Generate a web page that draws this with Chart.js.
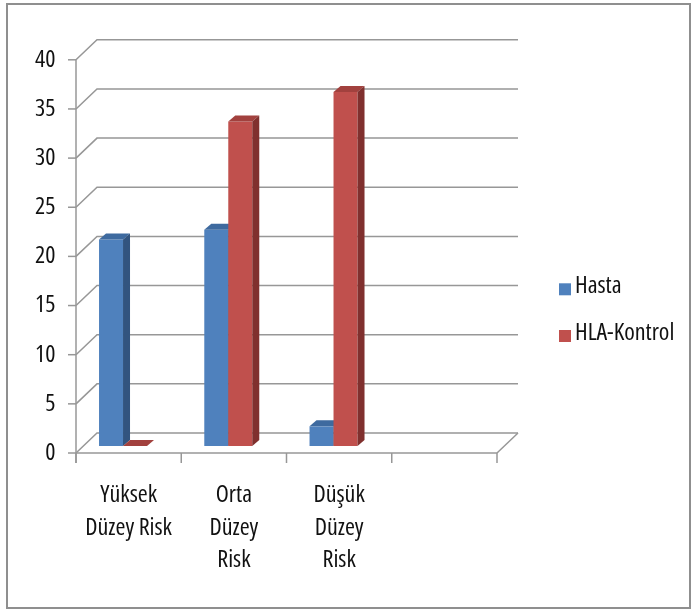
<!DOCTYPE html>
<html>
<head>
<meta charset="utf-8">
<script src="https://cdn.jsdelivr.net/npm/chart.js@4.4.1/dist/chart.umd.min.js"></script>
<style>
  html, body { margin: 0; padding: 0; background: #ffffff; }
  #wrap { width: 696px; height: 610px; }
</style>
</head>
<body>
<div id="wrap"><canvas id="chart" width="696" height="610"></canvas></div>
<script>
// Risk groups on the category axis (multi-line labels), last slot left empty
const categories = [["Yüksek", "Düzey Risk"], ["Orta", "Düzey", "Risk"], ["Düşük", "Düzey", "Risk"], ""];
// Series values per risk group
const hastaValues = [21, 22, 2, null];
const kontrolValues = [0, 33, 36, null];
const seriesNames = ["Hasta", "HLA-Kontrol"];
// Value axis range and tick step
const yMin = 0;
const yMax = 40;
const yStep = 5;

// Narrow face of Open Sans (its width axis), passed through the weight slot of the font string
const FONT_FAMILY = "'Open Sans', 'DejaVu Sans Condensed', sans-serif";
const FONT_STRETCH = "condensed";
const FONT_SIZE = 24;

// Shading for the faces of the 3-D columns: [front, top, side]
const faceColors = [
  ["#4F81BD", "#3E6A9F", "#32547F"],
  ["#C0504D", "#A2413E", "#80302E"]
];

// 3-D geometry: bar depth, and the front / back wall planes relative to the bar plane
const BAR_DEPTH = { x: 7, y: -6 };
const FRONT = { x: 5.6, y: 7 };
const BACK = { x: 26.6, y: -13 };
const GRID_COLOR = "#979797";

const threeD = {
  id: "threeD",
  beforeDraw(chart) {
    const ctx = chart.ctx;
    ctx.save();
    ctx.fillStyle = "#ffffff";
    ctx.fillRect(0, 0, chart.width, chart.height);
    ctx.strokeStyle = "#8f8f8f";
    ctx.lineWidth = 2;
    ctx.strokeRect(7, 4, 683, 604);
    ctx.restore();
  },
  beforeDatasetsDraw(chart) {
    const ctx = chart.ctx;
    const ys = chart.scales.y;
    const L = chart.chartArea.left, R = chart.chartArea.right;
    ctx.save();
    ctx.strokeStyle = GRID_COLOR;
    ctx.lineWidth = 1.5;
    ctx.lineCap = "butt";
    // back wall gridlines plus their diagonals on the side wall
    ys.ticks.forEach(t => {
      const y = ys.getPixelForValue(t.value);
      ctx.beginPath();
      ctx.moveTo(L + FRONT.x, y + FRONT.y);
      ctx.lineTo(L + BACK.x, y + BACK.y);
      ctx.lineTo(R + BACK.x, y + BACK.y);
      ctx.stroke();
      // tick mark on the front value axis
      ctx.beginPath();
      ctx.moveTo(L + FRONT.x - 8, y + FRONT.y);
      ctx.lineTo(L + FRONT.x, y + FRONT.y);
      ctx.stroke();
    });
    const y0 = ys.getPixelForValue(yMin);
    const yTop = ys.getPixelForValue(yMax);
    // floor edge on the right
    ctx.beginPath();
    ctx.moveTo(R + FRONT.x, y0 + FRONT.y);
    ctx.lineTo(R + BACK.x, y0 + BACK.y);
    ctx.stroke();
    // front value axis
    ctx.beginPath();
    ctx.moveTo(L + FRONT.x, yTop + FRONT.y);
    ctx.lineTo(L + FRONT.x, y0 + FRONT.y + 10);
    ctx.stroke();
    // front category axis
    ctx.beginPath();
    ctx.moveTo(L + FRONT.x, y0 + FRONT.y);
    ctx.lineTo(R + FRONT.x, y0 + FRONT.y);
    ctx.stroke();
    // category separators
    const n = categories.length;
    for (let i = 0; i <= n; i++) {
      const x = L + (R - L) * i / n + FRONT.x;
      ctx.beginPath();
      ctx.moveTo(x, y0 + FRONT.y);
      ctx.lineTo(x, y0 + FRONT.y + 10);
      ctx.stroke();
    }
    ctx.restore();
  },
  beforeDatasetDraw() {
    // columns are painted together below so that nearer faces overlap correctly
    return false;
  },
  afterDatasetsDraw(chart) {
    const ctx = chart.ctx;
    const n = chart.data.labels.length;
    ctx.save();
    for (let j = 0; j < n; j++) {
      chart.data.datasets.forEach((ds, i) => {
        if (ds.data[j] === null || ds.data[j] === undefined) return;
        const el = chart.getDatasetMeta(i).data[j];
        const left = el.x - el.width / 2, right = el.x + el.width / 2;
        const top = Math.min(el.y, el.base), base = Math.max(el.y, el.base);
        const dx = BAR_DEPTH.x, dy = BAR_DEPTH.y;
        el.draw(ctx, chart.chartArea);
        // top face
        ctx.fillStyle = faceColors[i][1];
        ctx.beginPath();
        ctx.moveTo(left, top);
        ctx.lineTo(left + dx, top + dy);
        ctx.lineTo(right + dx, top + dy);
        ctx.lineTo(right, top);
        ctx.closePath();
        ctx.fill();
        // side face
        if (base - top > 0.5) {
          ctx.fillStyle = faceColors[i][2];
          ctx.beginPath();
          ctx.moveTo(right, top);
          ctx.lineTo(right + dx, top + dy);
          ctx.lineTo(right + dx, base + dy);
          ctx.lineTo(right, base);
          ctx.closePath();
          ctx.fill();
        }
      });
    }
    ctx.restore();
  },
  afterDraw(chart) {
    // legend at the right of the plot
    const ctx = chart.ctx;
    ctx.save();
    ctx.font = FONT_STRETCH + " " + FONT_SIZE + "px " + FONT_FAMILY;
    ctx.textBaseline = "alphabetic";
    ctx.textAlign = "left";
    chart.data.datasets.forEach((ds, i) => {
      const baseY = 293.3 + i * 46.7;
      ctx.fillStyle = ds.backgroundColor;
      ctx.fillRect(559, baseY - 10, 12, 12);
      ctx.fillStyle = "#111111";
      ctx.fillText(ds.label, 575, baseY);
    });
    ctx.restore();
  }
};

const tickFont = { family: FONT_FAMILY, size: FONT_SIZE, weight: FONT_STRETCH, lineHeight: 1.36 };

new Chart(document.getElementById("chart"), {
  type: "bar",
  data: {
    labels: categories,
    datasets: [
      { label: seriesNames[0], data: hastaValues, backgroundColor: faceColors[0][0],
        barPercentage: 1, categoryPercentage: 0.456, borderWidth: 0 },
      { label: seriesNames[1], data: kontrolValues, backgroundColor: faceColors[1][0],
        barPercentage: 1, categoryPercentage: 0.456, borderWidth: 0 }
    ]
  },
  options: {
    responsive: false,
    animation: false,
    events: [],
    layout: { padding: { left: 0, top: 52.8, right: 204.6, bottom: 0 } },
    plugins: {
      legend: { display: false },
      tooltip: { enabled: false }
    },
    scales: {
      x: {
        grid: { display: false, drawTicks: false },
        border: { display: false },
        ticks: {
          font: tickFont, color: "#111111", padding: 33, labelOffset: 5.6,
          maxRotation: 0, minRotation: 0, autoSkip: false
        },
        afterFit: s => { s.height = 164; }
      },
      y: {
        min: yMin, max: yMax,
        grid: { display: false, drawTicks: false },
        border: { display: false },
        ticks: { stepSize: yStep, font: tickFont, color: "#111111", padding: 15, labelOffset: 7 },
        afterFit: s => { s.width = 70.4; }
      }
    }
  },
  plugins: [threeD]
});
</script>
</body>
</html>
